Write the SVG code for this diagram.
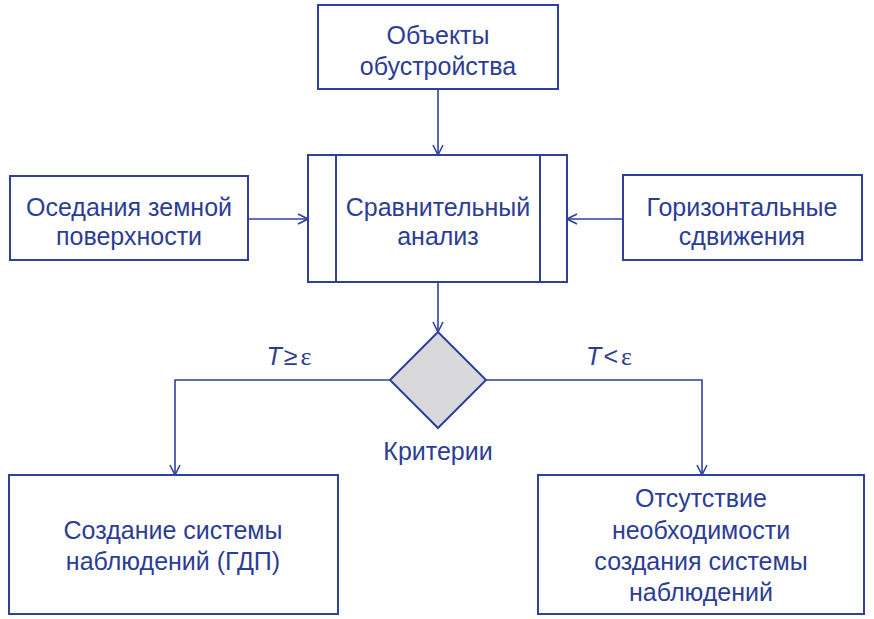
<svg xmlns="http://www.w3.org/2000/svg" width="874" height="619" viewBox="0 0 874 619">
<style>
.box{fill:#fff;stroke:#2f419c;stroke-width:2}
.ln{fill:none;stroke:#2f419c;stroke-width:1.6}
.t{font-family:"Liberation Sans",Arial,sans-serif;font-size:25px;fill:#2c3d95;text-anchor:middle}
.it{font-style:italic}
.eps{font-family:"Liberation Serif","Times New Roman",serif;font-size:26px}
</style>
<defs>
<marker id="ah" viewBox="0 0 12 12" refX="11" refY="6" markerWidth="12" markerHeight="12" markerUnits="userSpaceOnUse" orient="auto">
<path d="M1,1 L11,6 L1,11" fill="none" stroke="#2f419c" stroke-width="1.6"/>
</marker>
</defs>
<rect width="874" height="619" fill="#fff"/>
<g id="connectors">
<line class="ln" x1="438" y1="89" x2="438" y2="155" marker-end="url(#ah)"/>
<line class="ln" x1="248" y1="219" x2="308" y2="219" marker-end="url(#ah)"/>
<line class="ln" x1="623" y1="219" x2="567" y2="219" marker-end="url(#ah)"/>
<line class="ln" x1="438" y1="282" x2="438" y2="332" marker-end="url(#ah)"/>
<polyline class="ln" points="390,380 175,380 175,475" marker-end="url(#ah)"/>
<polyline class="ln" points="486,380 702,380 702,475" marker-end="url(#ah)"/>
<text class="t" x="289" y="365"><tspan class="it">T</tspan><tspan dx="2">≥</tspan><tspan class="eps" dx="3">ε</tspan></text>
<text class="t" x="609" y="365"><tspan class="it">T</tspan><tspan dx="2">&lt;</tspan><tspan class="eps" dx="3">ε</tspan></text>
</g>
<g id="objects">
<rect class="box" x="318" y="5" width="240" height="84"/>
<text class="t" x="438" y="44">Объекты</text>
<text class="t" x="438" y="75">обустройства</text>
</g>
<g id="compare">
<rect class="box" x="308" y="155" width="259" height="127"/>
<line class="ln" x1="336" y1="155" x2="336" y2="282" style="stroke-width:2"/>
<line class="ln" x1="540" y1="155" x2="540" y2="282" style="stroke-width:2"/>
<text class="t" x="438" y="216">Сравнительный</text>
<text class="t" x="438" y="245">анализ</text>
</g>
<g id="subsidence">
<rect class="box" x="10" y="176" width="238" height="84"/>
<text class="t" x="129" y="216">Оседания земной</text>
<text class="t" x="129" y="245">поверхности</text>
</g>
<g id="horizontal">
<rect class="box" x="623" y="175" width="239" height="85"/>
<text class="t" x="742" y="216">Горизонтальные</text>
<text class="t" x="742" y="245">сдвижения</text>
</g>
<g id="criteria">
<polygon points="438,332 486,380 438,428 390,380" fill="#d9d9db" stroke="#2f419c" stroke-width="2"/>
<text class="t" x="438" y="460">Критерии</text>
</g>
<g id="create">
<rect class="box" x="9" y="475" width="329" height="139"/>
<text class="t" x="173" y="539">Создание системы</text>
<text class="t" x="173" y="570">наблюдений (ГДП)</text>
</g>
<g id="nocreate">
<rect class="box" x="538" y="475" width="326" height="139"/>
<text class="t" x="701" y="507">Отсутствие</text>
<text class="t" x="701" y="539">необходимости</text>
<text class="t" x="701" y="570">создания системы</text>
<text class="t" x="701" y="601">наблюдений</text>
</g>
</svg>
